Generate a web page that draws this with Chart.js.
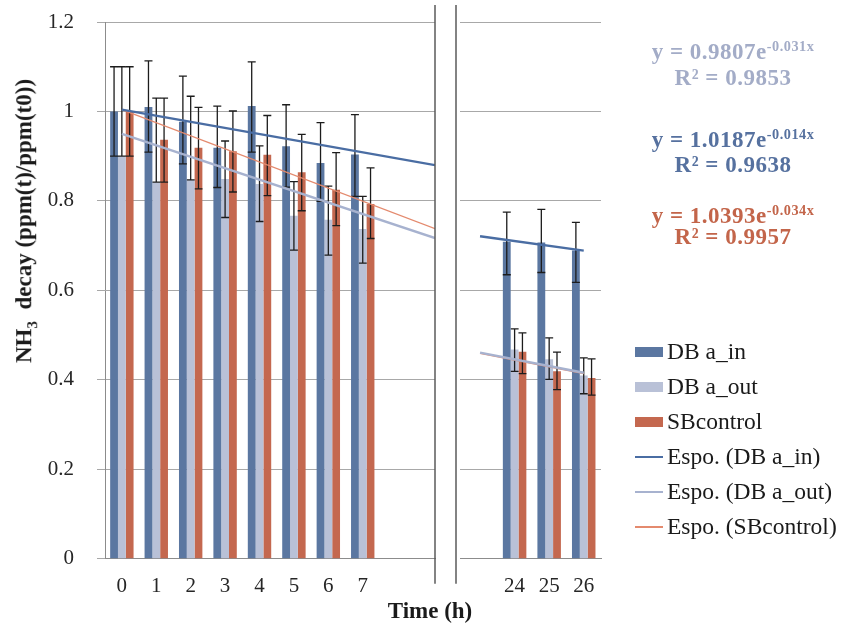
<!DOCTYPE html>
<html>
<head>
<meta charset="utf-8">
<script src="https://cdn.jsdelivr.net/npm/chart.js@4.4.1/dist/chart.umd.min.js"></script>
<style>
    html, body {
        margin: 0;
        padding: 0;
        background: #ffffff;
    }
    body {
        position: relative;
        width: 847px;
        height: 626px;
        overflow: hidden;
        font-family: "Liberation Serif", "Times New Roman", serif;
        color: #1a1a1a;
    }
    canvas {
        position: absolute;
        top: 0;
    }
    #earlyChart { left: 0; }
    #lateChart { left: 440px; }
    .yTitle {
        position: absolute;
        left: 26px;
        top: 221px;
        transform: translate(-50%, -50%) rotate(-90deg);
        font-weight: bold;
        font-size: 23px;
        white-space: nowrap;
    }
    .yTitle sub {
        font-size: 0.65em;
    }
    .xTitle {
        position: absolute;
        left: 430px;
        top: 611px;
        transform: translate(-50%, -50%);
        font-weight: bold;
        font-size: 23px;
        white-space: nowrap;
    }
    .eq {
        position: absolute;
        left: 733px;
        transform: translateX(-50%);
        font-weight: bold;
        font-size: 23px;
        line-height: 25px;
        letter-spacing: 0.5px;
        white-space: nowrap;
    }
    .eq sup {
        font-size: 0.62em;
        vertical-align: 0.55em;
        line-height: 0;
    }
    #legend {
        position: absolute;
        left: 635px;
        top: 334px;
    }
    .item {
        display: flex;
        align-items: center;
        height: 35px;
        font-size: 23.5px;
        white-space: nowrap;
    }
    .swatch {
        width: 28px;
        margin-right: 4px;
    }
</style>
</head>
<body>

<canvas id="earlyChart" width="440" height="626"></canvas>
<canvas id="lateChart" width="407" height="626"></canvas>

<div class="yTitle">NH<sub>3</sub>&nbsp; decay (ppm(t)/ppm(t0))</div>
<div class="xTitle">Time (h)</div>
<div id="equations"></div>
<div id="legend"></div>

<script>

/*
 * Data
 */

const hours = [0, 1, 2, 3, 4, 5, 6, 7, 24, 25, 26];

const seriesNames = ["DB a_in", "DB a_out", "SBcontrol"];

const dbIn = [1.000, 1.010, 0.977, 0.919, 1.012, 0.922, 0.885, 0.904, 0.709, 0.707, 0.689];
const dbInHigh = [1.100, 1.113, 1.079, 1.012, 1.111, 1.015, 0.975, 0.993, 0.775, 0.781, 0.752];
const dbInLow = [0.900, 0.909, 0.883, 0.830, 0.909, 0.831, 0.799, 0.810, 0.635, 0.640, 0.618];

const dbOut = [0.900, 0.842, 0.847, 0.849, 0.838, 0.767, 0.758, 0.737, 0.468, 0.446, 0.410];
const dbOutHigh = [1.100, 1.030, 1.034, 0.934, 0.923, 0.843, 0.833, 0.810, 0.514, 0.494, 0.449];
const dbOutLow = [0.900, 0.842, 0.847, 0.763, 0.754, 0.690, 0.679, 0.661, 0.419, 0.401, 0.369];

const sbControl = [1.000, 0.937, 0.919, 0.911, 0.903, 0.864, 0.825, 0.793, 0.463, 0.419, 0.404];
const sbControlHigh = [1.100, 1.030, 1.009, 1.001, 0.991, 0.949, 0.908, 0.874, 0.505, 0.462, 0.447];
const sbControlLow = [0.900, 0.842, 0.827, 0.820, 0.812, 0.778, 0.745, 0.716, 0.414, 0.378, 0.366];

// exponential trend lines, start and end of each drawn segment
const trendEarlyHours = [0, 9.1];
const trendDbInEarly = [1.004, 0.880];
const trendDbOutEarly = [0.950, 0.717];
const trendSbEarly = [1.004, 0.738];

const trendLateHours = [23, 26];
const trendDbInLate = [0.721, 0.689];
const trendDbOutLate = [0.461, 0.416];
const trendSbLate = [0.459, 0.414];

const yTicks = [0, 0.2, 0.4, 0.6, 0.8, 1, 1.2];

// equation boxes, top to bottom
const equationSeries = ["DB a_out", "DB a_in", "SBcontrol"];
const equationCoef = ["0.9807", "1.0187", "1.0393"];
const equationRate = ["-0.031", "-0.014", "-0.034"];
const equationR2 = ["0.9853", "0.9638", "0.9957"];


/*
 * Styles
 */

const barColors = {
    "DB a_in": "#5b77a1",
    "DB a_out": "#b9c1d7",
    "SBcontrol": "#c4684f"
};

const trendColors = {
    "DB a_in": "#4a6da3",
    "DB a_out": "#a7b2cf",
    "SBcontrol": "#e48a6e"
};

const trendWidths = {
    "DB a_in": 2.4,
    "DB a_out": 2.4,
    "SBcontrol": 1.2
};

const equationColors = {
    "DB a_in": "#56719f",
    "DB a_out": "#a3acc7",
    "SBcontrol": "#c3654a"
};

Chart.defaults.font.family = "'Liberation Serif', 'Times New Roman', serif";


/*
 * Plugins
 */

const errorBars = {

    id: "errorBars",

    afterDatasetDraw(chart, args) {

        const ds = chart.data.datasets[args.index];

        if (!ds.errHigh) {
            return;
        }

        const y = chart.scales.y;
        const ctx = chart.ctx;

        ctx.save();
        ctx.strokeStyle = "#1c1c1c";
        ctx.lineWidth = 1.3;

        args.meta.data.forEach((bar, i) => {

            const hi = y.getPixelForValue(ds.errHigh[i]);
            const lo = y.getPixelForValue(ds.errLow[i]);

            ctx.beginPath();
            ctx.moveTo(bar.x, hi);
            ctx.lineTo(bar.x, lo);
            ctx.moveTo(bar.x - 4, hi);
            ctx.lineTo(bar.x + 4, hi);
            ctx.moveTo(bar.x - 4, lo);
            ctx.lineTo(bar.x + 4, lo);
            ctx.stroke();

        });

        ctx.restore();

    }

};

const breakLine = {

    id: "breakLine",

    afterDraw(chart, args, opts) {

        const {ctx, chartArea} = chart;

        const x =
            opts.side === "right"
                ? chartArea.right
                : chartArea.left - 4;

        ctx.save();
        ctx.strokeStyle = "#5a5a5a";
        ctx.lineWidth = 1.5;
        ctx.beginPath();
        ctx.moveTo(x, chartArea.top - 17);
        ctx.lineTo(x, chartArea.bottom + 25);
        ctx.stroke();
        ctx.restore();

    }

};


/*
 * Chart builder, one chart per side of the time break
 */

const values = {
    "DB a_in": [dbIn, dbInLow, dbInHigh],
    "DB a_out": [dbOut, dbOutLow, dbOutHigh],
    "SBcontrol": [sbControl, sbControlLow, sbControlHigh]
};

function makeChart(canvasId, indexes, trendHours, trends, xMin, xMax, side, padding) {

    const pick = arr => indexes.map(i => arr[i]);

    const bars = seriesNames.map(name => ({

        type: "bar",
        label: name,
        data: indexes.map(i => ({x: hours[i], y: values[name][0][i]})),
        errLow: pick(values[name][1]),
        errHigh: pick(values[name][2]),
        backgroundColor: barColors[name],
        borderWidth: 0,
        categoryPercentage: 0.68,
        barPercentage: 1,
        order: 1

    }));

    const lines = seriesNames.map((name, s) => ({

        type: "line",
        label: "Espo. (" + name + ")",
        data: trendHours.map((h, k) => ({x: h, y: trends[s][k]})),
        borderColor: trendColors[name],
        borderWidth: trendWidths[name],
        pointRadius: 0,
        fill: false,
        tension: 0,
        order: 0

    }));

    const isLeft = side === "right";

    return new Chart(

        document.getElementById(canvasId),

        {

            type: "bar",

            data: {
                datasets: [...bars, ...lines]
            },

            options: {

                responsive: false,
                animation: false,

                layout: {
                    padding
                },

                scales: {

                    x: {
                        type: "linear",
                        offset: false,
                        min: xMin,
                        max: xMax,
                        afterBuildTicks: scale => {
                            scale.ticks = indexes.map(i => ({value: hours[i]}));
                        },
                        grid: {
                            display: false,
                            offset: false,
                            drawTicks: false
                        },
                        border: {
                            display: true,
                            color: "#8c8c8c"
                        },
                        ticks: {
                            autoSkip: false,
                            maxRotation: 0,
                            padding: 15,
                            color: "#262626",
                            font: {size: 21}
                        }
                    },

                    y: {
                        min: yTicks[0],
                        max: yTicks[yTicks.length - 1],
                        afterBuildTicks: scale => {
                            scale.ticks = yTicks.map(v => ({value: v}));
                        },
                        afterFit: scale => {
                            scale.width = isLeft ? 105 : 0;
                            scale.paddingTop = 0;
                            scale.paddingBottom = 0;
                        },
                        grid: {
                            color: "#a8a8a8",
                            tickLength: 8,
                            drawTicks: isLeft
                        },
                        border: {
                            display: isLeft,
                            color: "#8c8c8c"
                        },
                        ticks: {
                            display: isLeft,
                            padding: 23,
                            color: "#262626",
                            font: {size: 21},
                            callback: v => String(v)
                        }
                    }

                },

                plugins: {
                    legend: {display: false},
                    tooltip: {enabled: false},
                    breakLine: {side}
                }

            },

            plugins: [errorBars, breakLine]

        }

    );

}


document.addEventListener(

    "DOMContentLoaded",

    () => {

        const early = hours.map((h, i) => i).filter(i => hours[i] <= 7);
        const late = hours.map((h, i) => i).filter(i => hours[i] >= 24);

        makeChart(
            "earlyChart",
            early,
            trendEarlyHours,
            [trendDbInEarly, trendDbOutEarly, trendSbEarly],
            -0.49,
            9.1,
            "right",
            {left: 0, right: 5, top: 22, bottom: 12}
        );

        const lateChart = makeChart(
            "lateChart",
            late,
            trendLateHours,
            [trendDbInLate, trendDbOutLate, trendSbLate],
            22.42,
            26.5,
            "left",
            {left: 20, right: 246, top: 22, bottom: 12}
        );


        /*
         * Legend from the chart's datasets
         */

        const legend = document.getElementById("legend");

        lateChart.data.datasets.forEach(ds => {

            const item = document.createElement("div");
            item.className = "item";

            const swatch = document.createElement("span");
            swatch.className = "swatch";

            if (ds.type === "bar") {
                swatch.style.height = "10px";
                swatch.style.background = ds.backgroundColor;
            } else {
                swatch.style.height = "2px";
                swatch.style.background = ds.borderColor;
            }

            const text = document.createElement("span");
            text.textContent = ds.label;

            item.appendChild(swatch);
            item.appendChild(text);
            legend.appendChild(item);

        });


        /*
         * Trend equations
         */

        const eqBox = document.getElementById("equations");
        const eqCenters = [[51, 77], [139, 164], [215, 236]];

        equationSeries.forEach((name, k) => {

            const top = document.createElement("div");
            top.className = "eq";
            top.style.top = (eqCenters[k][0] - 12.5) + "px";
            top.style.color = equationColors[name];
            top.innerHTML =
                "y = " + equationCoef[k] + "e<sup>" + equationRate[k] + "x</sup>";

            const bottom = document.createElement("div");
            bottom.className = "eq";
            bottom.style.top = (eqCenters[k][1] - 12.5) + "px";
            bottom.style.color = equationColors[name];
            bottom.textContent = "R\u00b2 = " + equationR2[k];

            eqBox.appendChild(top);
            eqBox.appendChild(bottom);

        });

    }

);

</script>
</body>
</html>
